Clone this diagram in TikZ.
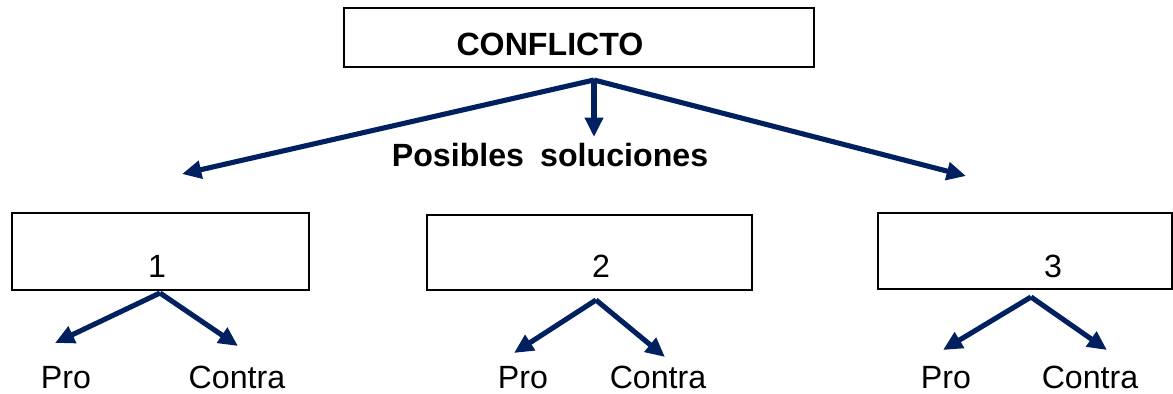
\documentclass[tikz,border=0pt]{standalone}
\usepackage{fontspec}
\setmainfont{Liberation Sans}
\usetikzlibrary{positioning,arrows.meta}
\definecolor{navy}{RGB}{0,32,96}

\begin{document}
\begin{tikzpicture}[x=0.02cm, y=-0.02cm, >={Triangle[length=11pt,width=10pt]},
        box/.style={draw, rectangle, line width=1.3pt, inner sep=0pt},
        txt/.style={anchor=base, inner sep=0pt, font=\fontsize{18.3}{22}\selectfont},
        link/.style={->, draw=navy, line width=2.9pt}]
        \useasboundingbox (0,0) rectangle (1173,394);
        % Boxes
        \node[box, minimum width=9.4cm, minimum height=1.18cm] (conflict) at (579,37.5) {};
        \node[box, minimum width=5.94cm, minimum height=1.54cm] (opt1) at (160.5,251.5) {};
        \node[box, minimum width=6.5cm, minimum height=1.5cm] (opt2) at (589.5,252.5) {};
        \node[box, minimum width=5.88cm, minimum height=1.52cm] (opt3) at (1025,251) {};
        
        % Texts
        \node[txt, font=\fontsize{18.3}{22}\selectfont\bfseries] (conflictlbl) at (550,56) {CONFLICTO};
        \node[txt, font=\fontsize{18.3}{22}\selectfont\bfseries] (soluciones) at (550,167) {Posibles\hspace{0.5em}soluciones};
        \node[txt] (opt1lbl) at (157,278) {1};
        \node[txt] (opt2lbl) at (601,278) {2};
        \node[txt] (opt3lbl) at (1053,278) {3};
        \node[txt] (pro1) at (66,389) {Pro};
        \node[txt] (contra1) at (237,389) {Contra};
        \node[txt] (pro2) at (523,389) {Pro};
        \node[txt] (contra2) at (658,389) {Contra};
        \node[txt] (pro3) at (946,389) {Pro};
        \node[txt] (contra3) at (1090,389) {Contra};
        
        % Fork points and arrow ends
        \coordinate (fork) at (594,80);
        \coordinate (to1) at (182,174);
        \coordinate (tomid) at (594,137);
        \coordinate (to3) at (966,176);
        \coordinate (fork1) at (160,293);
        \coordinate (fork2) at (596,300);
        \coordinate (fork3) at (1031,297);
        \coordinate (pro1tip) at (55,343);
        \coordinate (contra1tip) at (238,346);
        \coordinate (pro2tip) at (514,353);
        \coordinate (contra2tip) at (665,357);
        \coordinate (pro3tip) at (943,350);
        \coordinate (contra3tip) at (1107,350);
        
        % Arrows
        \draw[link] (fork) -- (to1);
        \draw[link] (fork) -- (tomid);
        \draw[link] (fork) -- (to3);
        \draw[link] (fork1) -- (pro1tip);
        \draw[link] (fork1) -- (contra1tip);
        \draw[link] (fork2) -- (pro2tip);
        \draw[link] (fork2) -- (contra2tip);
        \draw[link] (fork3) -- (pro3tip);
        \draw[link] (fork3) -- (contra3tip);
    \end{tikzpicture}
\end{document}
